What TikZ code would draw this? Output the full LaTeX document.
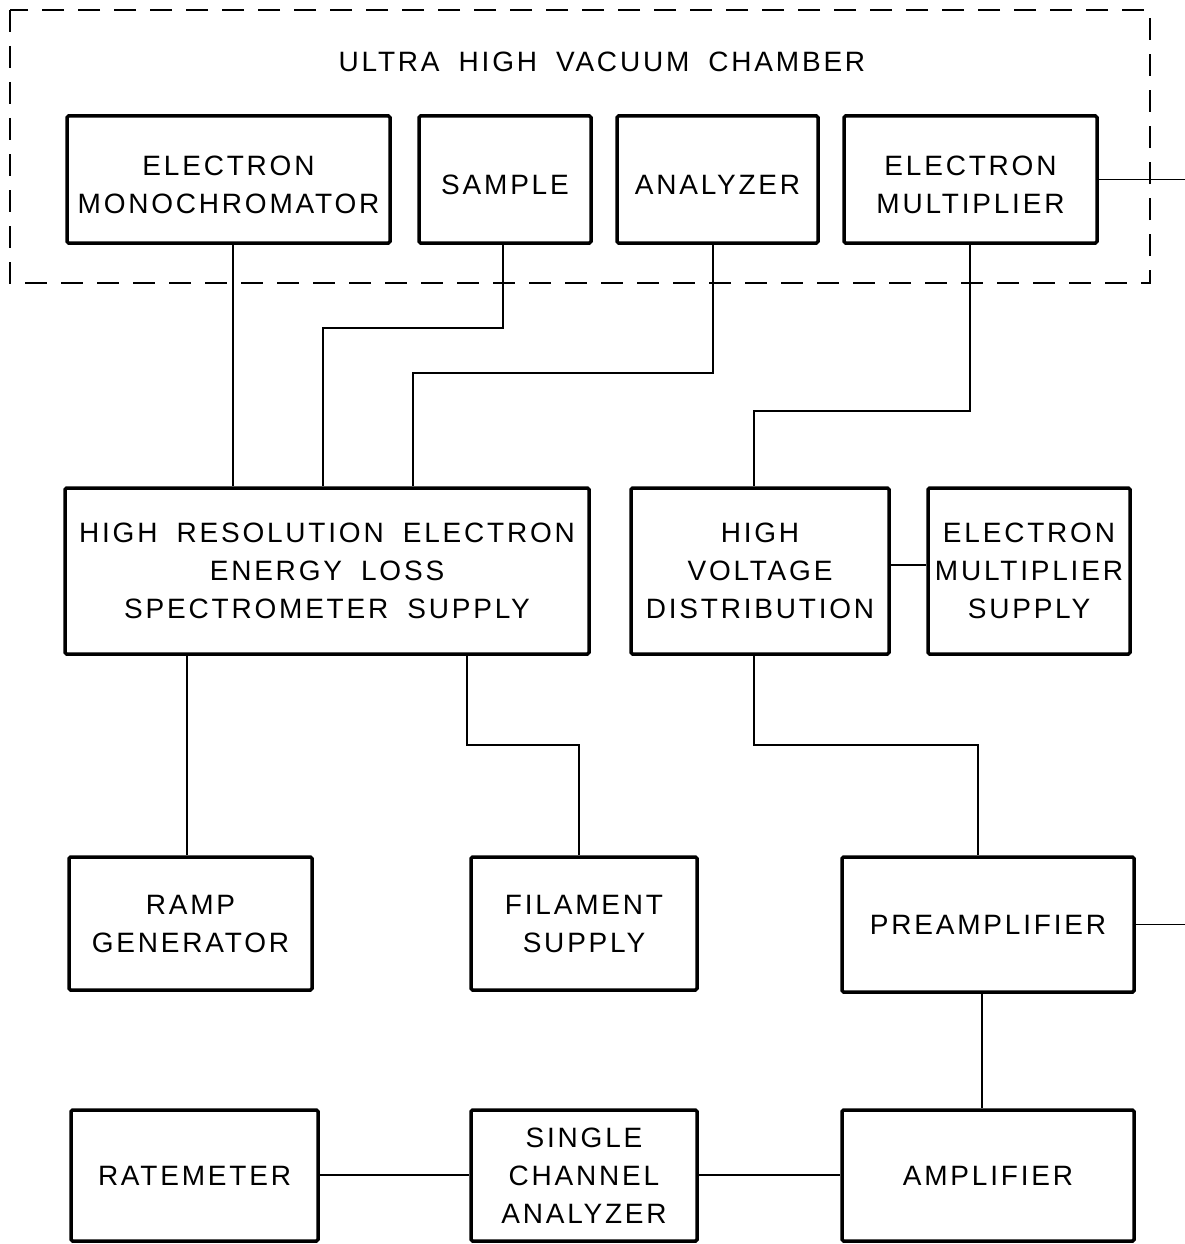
\documentclass[tikz,border=0pt]{standalone}
\usepackage{fontspec}
\setmainfont{Liberation Sans}[LetterSpace=10,WordSpace=1.8]
\begin{document}
\begin{tikzpicture}[x=1pt,y=-1pt,
  blk/.style={draw,line width=3.5pt,rounded corners=1.5pt,inner sep=0pt,align=center,
    font=\fontsize{28}{38}\selectfont},
  wire/.style={line width=1.8pt},
  chamber/.style={line width=2.2pt,dash pattern=on 22pt off 14pt}]
\useasboundingbox (0,0) rectangle (1185,1244);
\fill[white] (0,0) rectangle (1185,1244);
% chamber
\draw[chamber] (10,10) rectangle (1150,283);
\node[font=\fontsize{28}{38}\selectfont] (title) at (602,62) {ULTRA HIGH VACUUM CHAMBER};
% boxes
\newcommand{\blkat}[6]{\node[blk,minimum width=#3-#2,minimum height=#5-#4] (#1) at ({(#2+#3)/2},{(#4+#5)/2}) {#6};}
\newcommand{\lowstrut}{\rule{0pt}{30pt}}
\blkat{mono}{67}{390}{116}{243}{\lowstrut ELECTRON\\MONOCHROMATOR}
\blkat{sample}{419}{591}{116}{243}{\lowstrut SAMPLE}
\blkat{anal}{617}{818}{116}{243}{\lowstrut ANALYZER}
\blkat{emult}{844}{1097}{116}{243}{\lowstrut ELECTRON\\MULTIPLIER}
\blkat{hres}{65}{589}{488}{654}{HIGH RESOLUTION ELECTRON\\ENERGY LOSS\\SPECTROMETER SUPPLY}
\blkat{hv}{631}{889}{488}{654}{HIGH\\VOLTAGE\\DISTRIBUTION}
\blkat{emsup}{928}{1130}{488}{654}{ELECTRON\\MULTIPLIER\\SUPPLY}
\blkat{ramp}{69}{312}{857}{990}{RAMP\\GENERATOR}
\blkat{fil}{471}{697}{857}{990}{FILAMENT\\SUPPLY}
\blkat{pre}{842}{1134}{857}{992}{PREAMPLIFIER}
\blkat{rate}{71}{318}{1110}{1241}{RATEMETER}
\blkat{sca}{471}{697}{1110}{1241}{SINGLE\\CHANNEL\\ANALYZER}
\blkat{amp}{842}{1134}{1110}{1241}{AMPLIFIER}
% free ends
\coordinate (e1) at (1185,180);
\coordinate (e2) at (1185,924);
% bends
\coordinate (k1) at (323,328);
\coordinate (k2) at (413,373);
\coordinate (k3) at (754,411);
\coordinate (k4) at (579,745);
\coordinate (k5) at (978,745);
% connectors
\draw[wire] (emult.east) -- (emult.east -| e1);
\draw[wire] (pre.east) -- (pre.east -| e2);
\draw[wire] (mono.south -| 233,0) -- (hres.north -| 233,0);
\draw[wire] (sample.south -| 503,0) |- (k1) -- (k1 |- hres.north);
\draw[wire] (anal.south -| 713,0) |- (k2) -- (k2 |- hres.north);
\draw[wire] (emult.south -| 970,0) |- (k3) -- (k3 |- hv.north);
\draw[wire] (hv.east |- 0,565) -- (emsup.west |- 0,565);
\draw[wire] (hres.south -| 187,0) -- (ramp.north -| 187,0);
\draw[wire] (hres.south -| 467,0) |- (k4) -- (k4 |- fil.north);
\draw[wire] (k3 |- hv.south) |- (k5) -- (k5 |- pre.north);
\draw[wire] (pre.south -| 982,0) -- (amp.north -| 982,0);
\draw[wire] (rate.east |- 0,1175) -- (sca.west |- 0,1175);
\draw[wire] (sca.east |- 0,1175) -- (amp.west |- 0,1175);
\end{tikzpicture}
\end{document}
